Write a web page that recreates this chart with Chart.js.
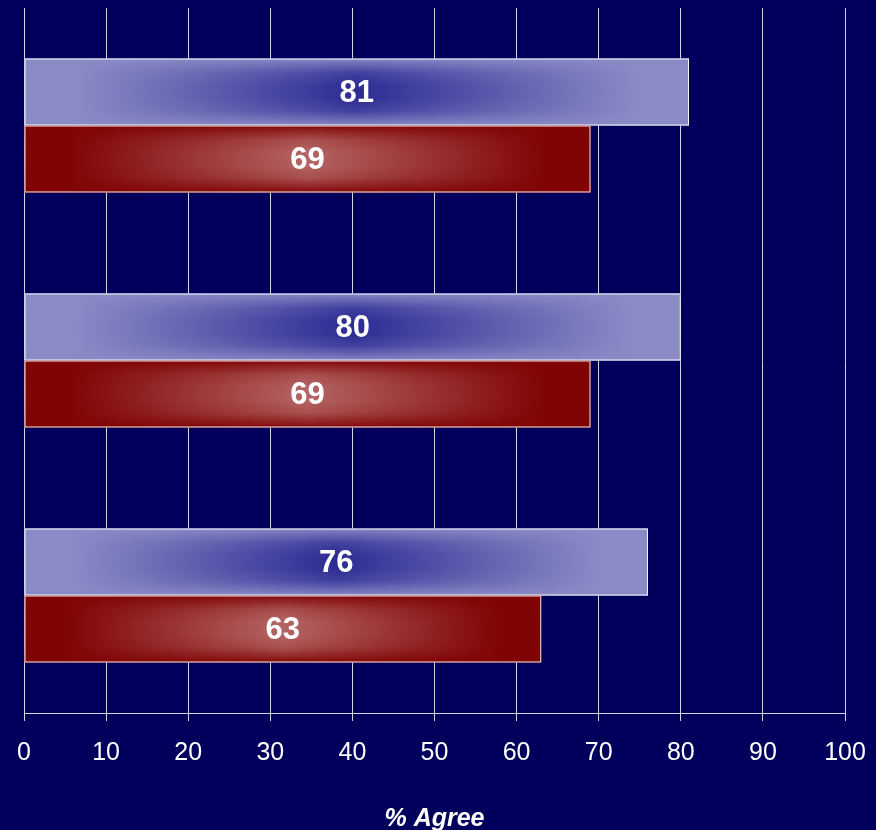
<!DOCTYPE html>
<html>
<head>
<meta charset="utf-8">
<script src="https://cdn.jsdelivr.net/npm/chart.js@4.4.0/dist/chart.umd.min.js"></script>
<style>
  html, body { margin: 0; padding: 0; background: #00005c; }
  canvas { display: block; }
</style>
</head>
<body>
<canvas id="chart" width="876" height="830"></canvas>
<script>
// Agreement survey: three groups, two series each

const categories = ['Group 1', 'Group 2', 'Group 3'];
const blueValues = [81, 80, 76];
const redValues = [69, 69, 63];
const tickValues = [0, 10, 20, 30, 40, 50, 60, 70, 80, 90, 100];

const BG = '#00005c';
const GRID = '#d4d4e4';

// horizontal shading, edge colour at both ends and the centre colour in the middle
function barGradient(ctx, chart, value, edge, mid) {
  const area = chart.chartArea;
  if (!area) return edge;
  const x0 = chart.scales.x.getPixelForValue(0);
  const x1 = chart.scales.x.getPixelForValue(value);
  const g = ctx.createLinearGradient(x0, 0, x1, 0);
  g.addColorStop(0, edge);
  g.addColorStop(0.08, edge);
  g.addColorStop(0.5, mid);
  g.addColorStop(0.92, edge);
  g.addColorStop(1, edge);
  return g;
}

// vertical overlay on every bar, then the outline and the value label
const barFinish = {
  id: 'barFinish',
  afterDatasetsDraw(chart) {
    const ctx = chart.ctx;
    chart.data.datasets.forEach((ds, i) => {
      const meta = chart.getDatasetMeta(i);
      meta.data.forEach((bar, j) => {
        const left = Math.min(bar.base, bar.x);
        const w = Math.abs(bar.x - bar.base);
        const top = bar.y - bar.height / 2;
        const h = bar.height;
        const g = ctx.createLinearGradient(0, top, 0, top + h);
        const c = ds.edgeRgb;
        g.addColorStop(0, `rgba(${c},1)`);
        g.addColorStop(0.07, `rgba(${c},0.7)`);
        g.addColorStop(0.22, `rgba(${c},0.2)`);
        g.addColorStop(0.4, `rgba(${c},0)`);
        g.addColorStop(0.6, `rgba(${c},0)`);
        g.addColorStop(0.78, `rgba(${c},0.2)`);
        g.addColorStop(0.93, `rgba(${c},0.7)`);
        g.addColorStop(1, `rgba(${c},1)`);
        ctx.save();
        ctx.fillStyle = g;
        ctx.fillRect(left, top, w, h);
        ctx.strokeStyle = 'rgba(255,255,255,0.9)';
        ctx.lineWidth = 1;
        ctx.strokeRect(left + 0.5, top + 0.5, w - 1, h - 1);
        ctx.fillStyle = '#ffffff';
        ctx.font = 'bold 31px "Liberation Sans", Arial, sans-serif';
        ctx.textAlign = 'center';
        ctx.textBaseline = 'middle';
        ctx.fillText(String(ds.data[j]), left + w / 2, bar.y + 1);
        ctx.restore();
      });
    });
  }
};

const background = {
  id: 'background',
  beforeDraw(chart) {
    const ctx = chart.ctx;
    ctx.save();
    ctx.fillStyle = BG;
    ctx.fillRect(0, 0, chart.width, chart.height);
    ctx.restore();
  }
};

const chart = new Chart(document.getElementById('chart'), {
  type: 'bar',
  data: {
    labels: categories,
    datasets: [
      {
        label: 'Series A',
        data: blueValues,
        edgeRgb: '138,138,198',
        backgroundColor: (c) => barGradient(c.chart.ctx, c.chart, blueValues[c.dataIndex], '#8a8ac6', '#2c2c94'),
        borderWidth: 0
      },
      {
        label: 'Series B',
        data: redValues,
        edgeRgb: '128,4,4',
        backgroundColor: (c) => barGradient(c.chart.ctx, c.chart, redValues[c.dataIndex], '#800404', '#b46464'),
        borderWidth: 0
      }
    ]
  },
  options: {
    indexAxis: 'y',
    responsive: false,
    animation: false,
    layout: { padding: { left: 24, right: 31, top: 8, bottom: 0 } },
    categoryPercentage: 0.57,
    barPercentage: 1,
    plugins: {
      legend: { display: false },
      tooltip: { enabled: false }
    },
    scales: {
      x: {
        min: 0,
        max: 100,
        afterBuildTicks(axis) {
          axis.ticks = tickValues.map(v => ({ value: v }));
        },
        afterFit(axis) {
          // end labels may overhang; the layout padding already leaves room
          axis.paddingLeft = 0;
          axis.paddingRight = 0;
        },
        grid: { color: GRID, lineWidth: 1, tickLength: 8, drawTicks: true },
        border: { color: GRID, width: 1 },
        ticks: {
          color: '#ffffff',
          padding: 17,
          font: { family: '"Liberation Sans", Arial, sans-serif', size: 25 }
        },
        title: {
          display: true,
          text: '% Agree',
          color: '#ffffff',
          padding: { top: 22, bottom: -2 },
          font: { family: '"Liberation Sans", Arial, sans-serif', size: 25, weight: 'bold', style: 'italic', lineHeight: 1 }
        }
      },
      y: {
        display: false,
        grid: { display: false }
      }
    }
  },
  plugins: [background, barFinish]
});
</script>
</body>
</html>
